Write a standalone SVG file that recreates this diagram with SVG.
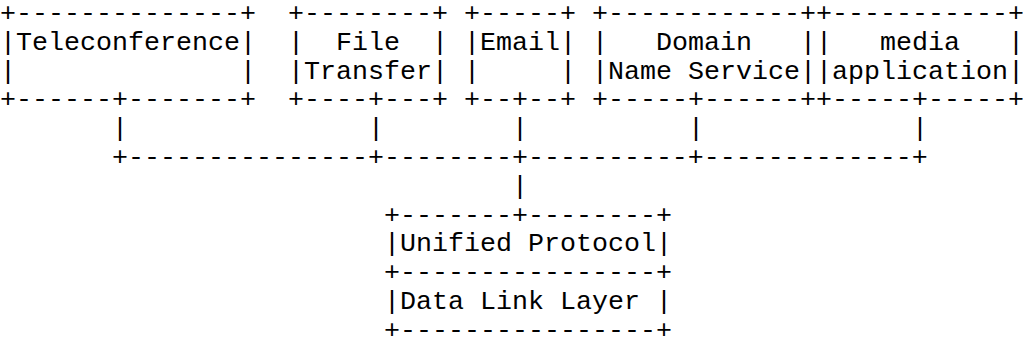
<svg xmlns="http://www.w3.org/2000/svg" width="1023" height="345" viewBox="0 0 1023 345">
<style>
text { font-family: "Liberation Mono", "Courier New", monospace; font-size: 26.6667px; fill: #000; white-space: pre; }
</style>
<rect x="0" y="0" width="1023" height="345" fill="#fff"/>
<g id="teleconference">
<text x="0" y="21" xml:space="preserve">+--------------+</text>
<text x="0" y="49.8" xml:space="preserve">|Teleconference|</text>
<text x="0" y="78.6" xml:space="preserve">|              |</text>
<text x="0" y="107.4" xml:space="preserve">+------+-------+</text>
</g>
<g id="file-transfer">
<text x="288" y="21" xml:space="preserve">+--------+</text>
<text x="288" y="49.8" xml:space="preserve">|  File  |</text>
<text x="288" y="78.6" xml:space="preserve">|Transfer|</text>
<text x="288" y="107.4" xml:space="preserve">+----+---+</text>
</g>
<g id="email">
<text x="464" y="21" xml:space="preserve">+-----+</text>
<text x="464" y="49.8" xml:space="preserve">|Email|</text>
<text x="464" y="78.6" xml:space="preserve">|     |</text>
<text x="464" y="107.4" xml:space="preserve">+--+--+</text>
</g>
<g id="domain-name-service">
<text x="592" y="21" xml:space="preserve">+------------+</text>
<text x="592" y="49.8" xml:space="preserve">|   Domain   |</text>
<text x="592" y="78.6" xml:space="preserve">|Name Service|</text>
<text x="592" y="107.4" xml:space="preserve">+-----+------+</text>
</g>
<g id="media-application">
<text x="816" y="21" xml:space="preserve">+-----------+</text>
<text x="816" y="49.8" xml:space="preserve">|   media   |</text>
<text x="816" y="78.6" xml:space="preserve">|application|</text>
<text x="816" y="107.4" xml:space="preserve">+-----+-----+</text>
</g>
<g id="connectors">
<text x="112" y="136.2" xml:space="preserve">|</text>
<text x="368" y="136.2" xml:space="preserve">|</text>
<text x="512" y="136.2" xml:space="preserve">|</text>
<text x="688" y="136.2" xml:space="preserve">|</text>
<text x="912" y="136.2" xml:space="preserve">|</text>
<text x="112" y="165" xml:space="preserve">+---------------+--------+----------+-------------+</text>
<text x="512" y="193.8" xml:space="preserve">|</text>
</g>
<g id="unified-protocol">
<text x="384" y="222.6" xml:space="preserve">+-------+--------+</text>
<text x="384" y="251.4" xml:space="preserve">|Unified Protocol|</text>
</g>
<g id="data-link-layer">
<text x="384" y="280.2" xml:space="preserve">+----------------+</text>
<text x="384" y="309" xml:space="preserve">|Data Link Layer |</text>
<text x="384" y="337.8" xml:space="preserve">+----------------+</text>
</g>
</svg>
